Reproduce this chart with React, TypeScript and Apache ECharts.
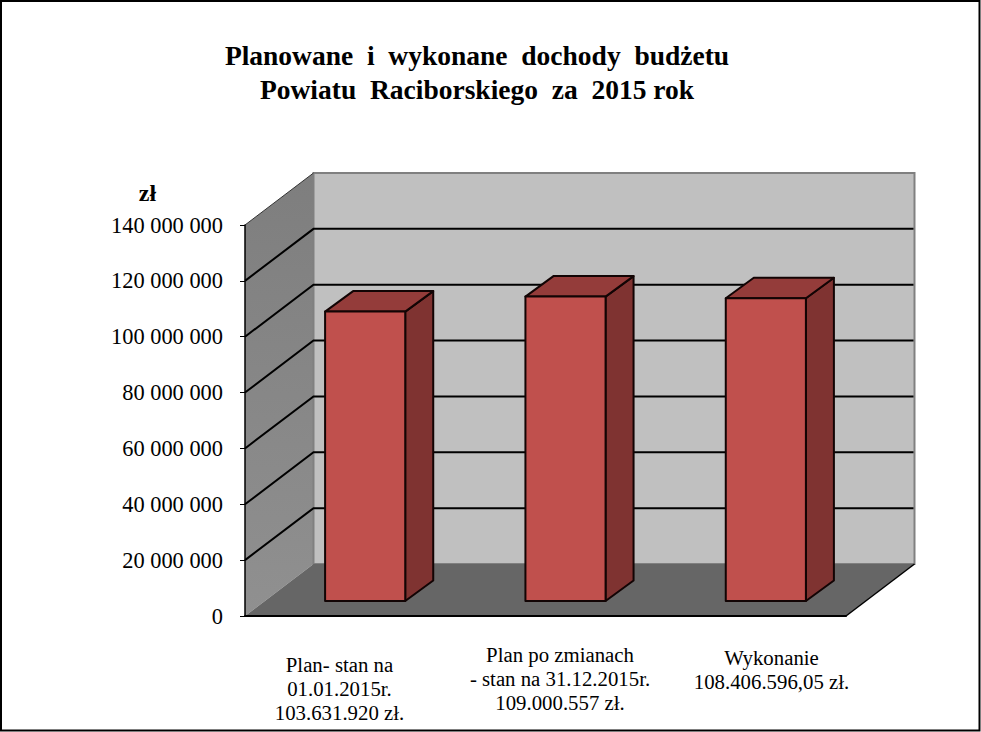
import React, { useEffect, useRef } from "react";
import * as echarts from "echarts";

const titleText = "Planowane  i  wykonane  dochody  budżetu\nPowiatu  Raciborskiego  za  2015 rok";
const unitLabel = "zł";
const categories = [
  "Plan- stan na\n01.01.2015r.\n103.631.920 zł.",
  "Plan po zmianach\n- stan na 31.12.2015r.\n109.000.557 zł.",
  "Wykonanie\n108.406.596,05 zł.",
];
const budgetValues = [103631920, 109000557, 108406596.05];
const yTicks = [20000000, 40000000, 60000000, 80000000, 100000000, 120000000, 140000000];

const FONT = '"Liberation Serif", "Times New Roman", serif';
const WALL_DX = 68.5;
const WALL_DY = -52;
const BAR_DX = 20;
const BAR_DY = -15;
const BAR_DEPTH_X = 28;
const BAR_DEPTH_Y = -20.5;
const BAR_WIDTH_RATIO = 0.4;
const labelAnchors = [
  { x: 339.5, y: 688.5 },
  { x: 560, y: 678.5 },
  { x: 771.5, y: 669.5 },
];

const formatTick = (v: number) => String(v).replace(/\B(?=(\d{3})+(?!\d))/g, " ");

function renderWalls(params: any, api: any) {
  const { x, y, width, height } = params.coordSys;
  const bottom = y + height;
  const right = x + width;
  const children: any[] = [
    {
      type: "polygon",
      shape: { points: [[x, y], [x + WALL_DX, y + WALL_DY], [x + WALL_DX, bottom + WALL_DY], [x, bottom]] },
      style: {
        fill: new echarts.graphic.LinearGradient(0, 0, 0, 1, [
          { offset: 0, color: "#7e7e7e" },
          { offset: 1, color: "#909090" },
        ]),
      },
    },
    {
      type: "rect",
      shape: { x: x + WALL_DX, y: y + WALL_DY, width, height },
      style: { fill: "#c0c0c0", stroke: "#808080", lineWidth: 2 },
    },
    {
      type: "polygon",
      shape: { points: [[x, bottom], [x + WALL_DX, bottom + WALL_DY], [right + WALL_DX, bottom + WALL_DY], [right, bottom]] },
      style: { fill: "#666666" },
    },
    {
      type: "line",
      shape: { x1: right, y1: bottom, x2: right + WALL_DX, y2: bottom + WALL_DY },
      style: { stroke: "#000", lineWidth: 1.5 },
    },
    {
      type: "line",
      shape: { x1: x, y1: y, x2: x + WALL_DX, y2: y + WALL_DY },
      style: { stroke: "#333", lineWidth: 1 },
    },
  ];
  yTicks.slice(0, -1).forEach((v) => {
    const py = api.coord([0, v])[1];
    children.push({
      type: "polyline",
      shape: { points: [[x, py], [x + WALL_DX, py + WALL_DY], [right + WALL_DX - 1, py + WALL_DY]] },
      style: { fill: "none", stroke: "#000", lineWidth: 2 },
    });
  });
  return { type: "group", children };
}

function renderBar(params: any, api: any) {
  const base = api.coord([api.value(0), 0]);
  const top = api.coord([api.value(0), api.value(1)]);
  const half = (api.size([1, 0])[0] * BAR_WIDTH_RATIO) / 2;
  const l = base[0] - half + BAR_DX;
  const r = base[0] + half + BAR_DX;
  const b = base[1] + BAR_DY;
  const t = top[1] + BAR_DY;
  const edge = { stroke: "#120404", lineWidth: 2, lineJoin: "round" };
  return {
    type: "group",
    children: [
      {
        type: "polygon",
        shape: { points: [[r, t], [r + BAR_DEPTH_X, t + BAR_DEPTH_Y], [r + BAR_DEPTH_X, b + BAR_DEPTH_Y], [r, b]] },
        style: { fill: "#7f3331", ...edge },
      },
      {
        type: "polygon",
        shape: { points: [[l, t], [l + BAR_DEPTH_X, t + BAR_DEPTH_Y], [r + BAR_DEPTH_X, t + BAR_DEPTH_Y], [r, t]] },
        style: { fill: "#943c3a", ...edge },
      },
      {
        type: "rect",
        shape: { x: l, y: t, width: r - l, height: b - t },
        style: { fill: "#c0504d", ...edge },
      },
    ],
  };
}

export default function App() {
  const ref = useRef<HTMLDivElement>(null);
  useEffect(() => {
    const chart = echarts.init(ref.current!, null, { renderer: "svg" });
    chart.setOption({
      animation: false,
      backgroundColor: "#ffffff",
      title: {
        text: titleText,
        left: 472,
        top: 33,
        textAlign: "center",
        textStyle: { fontFamily: FONT, fontWeight: "bold", fontSize: 27.5, lineHeight: 34, color: "#000" },
      },
      grid: { left: 245, top: 225, width: 601, height: 391 },
      xAxis: {
        type: "category",
        data: categories,
        axisLine: { show: true, lineStyle: { color: "#000", width: 2 } },
        axisTick: { show: false },
        axisLabel: { show: false },
        splitLine: { show: false },
        z: 5,
      },
      yAxis: {
        type: "value",
        min: 0,
        max: 140000000,
        interval: 20000000,
        axisLine: { show: true, lineStyle: { color: "#000", width: 1.5 } },
        axisTick: { show: true, length: 5, lineStyle: { color: "#000", width: 1 } },
        axisLabel: { formatter: formatTick, fontFamily: FONT, fontSize: 22.4, color: "#000", margin: 22 },
        splitLine: { show: false },
        z: 5,
      },
      series: [
        {
          type: "custom",
          name: "walls",
          renderItem: renderWalls,
          data: [[0, 0]],
          silent: true,
          z: 1,
        },
        {
          type: "custom",
          name: "Dochody",
          renderItem: renderBar,
          data: budgetValues.map((v, i) => [i, v]),
          encode: { x: 0, y: 1 },
          z: 3,
        },
      ],
      graphic: [
        {
          type: "rect",
          silent: true,
          z: -1,
          shape: { x: 1, y: 1, width: 978.5, height: 729.5 },
          style: { fill: "none", stroke: "#000", lineWidth: 2 },
        },
        {
          type: "text",
          x: 147.5,
          y: 193,
          style: { text: unitLabel, fontFamily: FONT, fontWeight: "bold", fontSize: 24, fill: "#000", align: "center", verticalAlign: "middle" },
        },
        ...categories.map((text, i) => ({
          type: "text",
          x: labelAnchors[i].x,
          y: labelAnchors[i].y,
          style: { text, fontFamily: FONT, fontSize: 20.8, lineHeight: 23.6, fill: "#000", align: "center", verticalAlign: "middle" },
        })),
      ],
    });
    return () => chart.dispose();
  }, []);
  return <div ref={ref} style={{ position: "absolute", left: 0, top: 0, width: 981, height: 732 }} />;
}
